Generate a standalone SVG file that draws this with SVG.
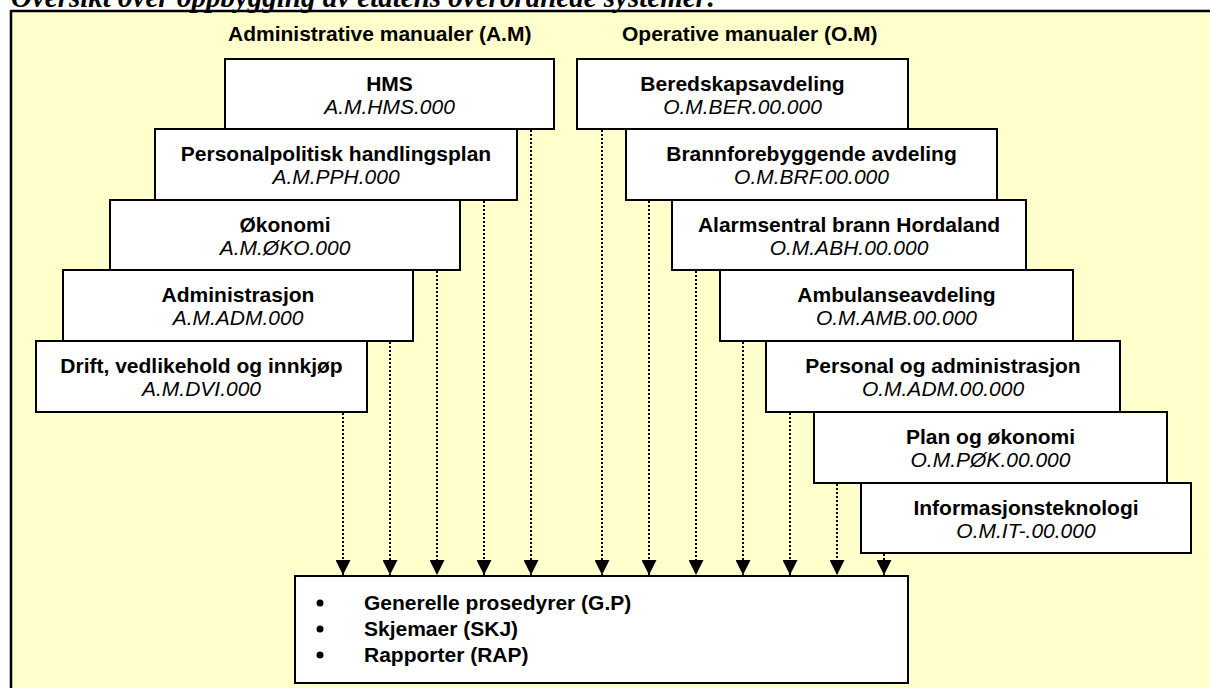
<svg xmlns="http://www.w3.org/2000/svg" width="1210" height="688" viewBox="0 0 1210 688">
<defs>
<style>
.bg{fill:#FFFFCC;stroke:#000;stroke-width:2.5}
.box{fill:#fff;stroke:#000;stroke-width:2}
.t{font-family:"Liberation Sans",Arial,sans-serif;font-size:21px;font-weight:bold;fill:#000;text-anchor:middle}
.c{font-family:"Liberation Sans",Arial,sans-serif;font-size:21px;font-style:italic;fill:#000;text-anchor:middle}
.h{font-family:"Liberation Sans",Arial,sans-serif;font-size:21px;font-weight:bold;fill:#000}
.title{font-family:"Liberation Serif","Times New Roman",serif;font-size:29px;font-weight:bold;font-style:italic;fill:#000}
.conn{fill:none;stroke:#000;stroke-width:2;stroke-dasharray:2 2;marker-end:url(#ah)}
</style>
<marker id="ah" markerUnits="userSpaceOnUse" markerWidth="15" markerHeight="15" refX="15" refY="7.5" orient="auto" viewBox="0 0 15 15"><path d="M0,0 L15,7.5 L0,15 z" fill="#000"/></marker>
</defs>
<rect x="11" y="11" width="1230" height="700" class="bg"/>
<text class="title" x="11" y="7">Oversikt over oppbygging av etatens overordnede systemer:</text>
<text class="h" x="228" y="41">Administrative manualer (A.M)</text>
<text class="h" x="622" y="41">Operative manualer (O.M)</text>

<g id="am-hms"><rect class="box" x="225" y="59" width="329" height="70"/><text class="t" x="389.5" y="91">HMS</text><text class="c" x="389.5" y="114">A.M.HMS.000</text></g>
<g id="am-pph"><rect class="box" x="155" y="129" width="362" height="71"/><text class="t" x="336" y="161">Personalpolitisk handlingsplan</text><text class="c" x="336" y="184">A.M.PPH.000</text></g>
<g id="am-oko"><rect class="box" x="110" y="200" width="350" height="70"/><text class="t" x="285" y="232">Økonomi</text><text class="c" x="285" y="255">A.M.ØKO.000</text></g>
<g id="am-adm"><rect class="box" x="63" y="270" width="350" height="71"/><text class="t" x="238" y="302">Administrasjon</text><text class="c" x="238" y="325">A.M.ADM.000</text></g>
<g id="am-dvi"><rect class="box" x="36" y="341" width="331" height="71"/><text class="t" x="201.5" y="373">Drift, vedlikehold og innkjøp</text><text class="c" x="201.5" y="396">A.M.DVI.000</text></g>

<g id="om-ber"><rect class="box" x="577" y="59" width="331" height="70"/><text class="t" x="742.5" y="91">Beredskapsavdeling</text><text class="c" x="742.5" y="114">O.M.BER.00.000</text></g>
<g id="om-brf"><rect class="box" x="626" y="129" width="371" height="71"/><text class="t" x="811.5" y="161">Brannforebyggende avdeling</text><text class="c" x="811.5" y="184">O.M.BRF.00.000</text></g>
<g id="om-abh"><rect class="box" x="672" y="200" width="354" height="70"/><text class="t" x="849" y="232">Alarmsentral brann Hordaland</text><text class="c" x="849" y="255">O.M.ABH.00.000</text></g>
<g id="om-amb"><rect class="box" x="720" y="270" width="353" height="71"/><text class="t" x="896.5" y="302">Ambulanseavdeling</text><text class="c" x="896.5" y="325">O.M.AMB.00.000</text></g>
<g id="om-adm"><rect class="box" x="766" y="341" width="354" height="71"/><text class="t" x="943" y="373">Personal og administrasjon</text><text class="c" x="943" y="396">O.M.ADM.00.000</text></g>
<g id="om-pok"><rect class="box" x="814" y="412" width="353" height="71"/><text class="t" x="990.5" y="444">Plan og økonomi</text><text class="c" x="990.5" y="467">O.M.PØK.00.000</text></g>
<g id="om-it"><rect class="box" x="861" y="483" width="330" height="70"/><text class="t" x="1026" y="515">Informasjonsteknologi</text><text class="c" x="1026" y="538">O.M.IT-.00.000</text></g>

<g id="general"><rect class="box" x="295" y="576" width="613" height="107"/>
<circle cx="320" cy="603" r="3.5"/><circle cx="320" cy="629" r="3.5"/><circle cx="320" cy="655" r="3.5"/>
<text class="h" x="364" y="610">Generelle prosedyrer (G.P)</text>
<text class="h" x="364" y="636">Skjemaer (SKJ)</text>
<text class="h" x="364" y="662">Rapporter (RAP)</text></g>

<g id="connectors">
<path class="conn" d="M531,130 V575"/>
<path class="conn" d="M484,201 V575"/>
<path class="conn" d="M437,271 V575"/>
<path class="conn" d="M390,342 V575"/>
<path class="conn" d="M343,413 V575"/>
<path class="conn" d="M602,130 V575"/>
<path class="conn" d="M649,201 V575"/>
<path class="conn" d="M696,271 V575"/>
<path class="conn" d="M743,342 V575"/>
<path class="conn" d="M790,413 V575"/>
<path class="conn" d="M837,484 V575"/>
<path class="conn" d="M884,554 V575"/>
</g>
</svg>
